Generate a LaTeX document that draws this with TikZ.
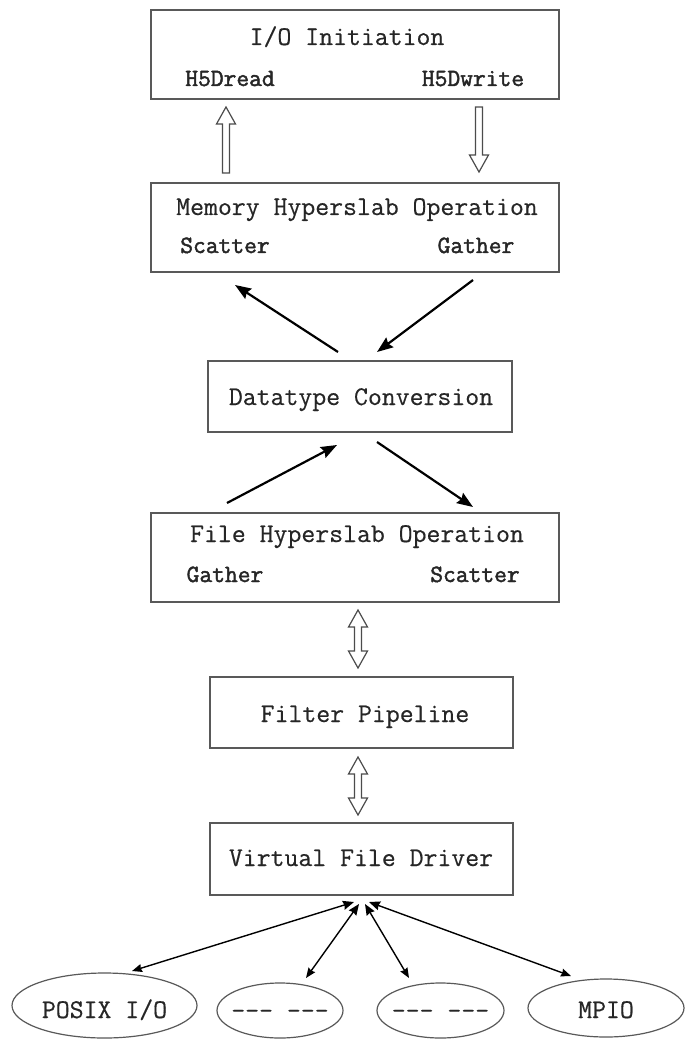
\documentclass[tikz,border=0pt]{standalone}
\usepackage{fontspec}
\newfontfamily\courlike{Latin Modern Mono}[FakeBold=0.4]
\newfontfamily\courheavy{Latin Modern Mono}[FakeBold=1.8]
\usetikzlibrary{arrows.meta,calc,shapes.geometric}
\begin{document}
\begin{tikzpicture}[x=1pt,y=-1pt,
  boxstyle/.style={draw=black!65, line width=1.3pt, inner sep=0pt, outer sep=0pt},
  title/.style={font=\courlike\fontsize{27}{30}\selectfont, text=black!85, inner sep=0pt, anchor=base},
  sub/.style={font=\courheavy\fontsize{24.8}{27}\selectfont, text=black!85, inner sep=0pt, anchor=base},
  oval/.style={ellipse, draw=black!65, line width=1.2pt, inner sep=0pt, outer sep=0pt, text depth=0pt, font=\courlike\fontsize{27}{30}\selectfont, text=black!85},
  thickarr/.style={line width=2.2pt, -{Stealth[length=16pt,width=12pt,inset=2pt]}},
  thinarr/.style={line width=1.4pt, {Stealth[length=11pt,width=9pt,inset=1pt]}-{Stealth[length=10pt,width=8pt,inset=1pt]}},
  hollow/.style={draw=black!70, line width=1.2pt, line join=miter,
    to path={let \p1=(\tikztostart), \p2=(\tikztotarget), \p3=($(\p2)!17pt!(\p1)$) in
      (\x1-3.5pt,\y1) -- (\x1-3.5pt,\y3) -- (\x1-9.5pt,\y3) -- (\x2,\y2) -- (\x1+9.5pt,\y3) -- (\x1+3.5pt,\y3) -- (\x1+3.5pt,\y1) -- cycle}},
  hollowboth/.style={draw=black!70, line width=1.2pt, line join=miter,
    to path={let \p1=(\tikztostart), \p2=(\tikztotarget), \p3=($(\p1)!17pt!(\p2)$), \p4=($(\p2)!17pt!(\p1)$) in
      (\x1,\y1) -- (\x1+9.5pt,\y3) -- (\x1+3.5pt,\y3) -- (\x1+3.5pt,\y4) -- (\x1+9.5pt,\y4) -- (\x2,\y2) -- (\x1-9.5pt,\y4) -- (\x1-3.5pt,\y4) -- (\x1-3.5pt,\y3) -- (\x1-9.5pt,\y3) -- cycle}}
]
\fill[white] (0,0) rectangle (686,1040);
\useasboundingbox (0,0) rectangle (686,1040);

% boxes
\node[boxstyle, minimum width=408pt, minimum height=89pt] (init) at (355,54.5) {};
\node[boxstyle, minimum width=408pt, minimum height=89pt] (mem) at (355,227.5) {};
\node[boxstyle, minimum width=304pt, minimum height=71pt] (conv) at (360,396.5) {};
\node[boxstyle, minimum width=408pt, minimum height=89pt] (file) at (355,557.5) {};
\node[boxstyle, minimum width=303pt, minimum height=71pt] (filter) at (361.5,712.5) {};
\node[boxstyle, minimum width=303pt, minimum height=72pt] (vfd) at (361.5,859) {};

% texts
\node[title] (initT) at (347,45) {I/O Initiation};
\node[sub] (h5read) at (230,86) {H5Dread};
\node[sub] (h5write) at (473,86) {H5Dwrite};
\node[title] (memT) at (357,215) {Memory Hyperslab Operation};
\node[sub] (memS) at (225,253) {Scatter};
\node[sub] (memG) at (476,253) {Gather};
\node[title] (convT) at (361,405) {Datatype Conversion};
\node[title] (fileT) at (357,542) {File Hyperslab Operation};
\node[sub] (fileG) at (225,582) {Gather};
\node[sub] (fileS) at (475,582) {Scatter};
\node[title] (filterT) at (365,722) {Filter Pipeline};
\node[title] (vfdT) at (361,866) {Virtual File Driver};

% ellipses
\node[oval, inner xsep=-20pt, minimum width=185pt, minimum height=65pt, text height=25pt] (posix) at (104.5,1005.5) {POSIX I/O};
\node[oval, inner xsep=-30pt, minimum width=126pt, minimum height=55pt, text height=17pt] (drvA) at (280,1010.5) {-{}-{}- -{}-{}-};
\node[oval, inner xsep=-30pt, minimum width=127pt, minimum height=55pt, text height=17pt] (drvB) at (440.5,1010.5) {-{}-{}- -{}-{}-};
\node[oval, inner xsep=-20pt, minimum width=156pt, minimum height=58pt, text height=20pt] (mpio) at (606,1008) {MPIO};

% hollow arrows
\coordinate (r1) at (226,173); \coordinate (r2) at (226,107);
\coordinate (w1) at (479,107); \coordinate (w2) at (479,172);
\coordinate (d1a) at (358,610); \coordinate (d1b) at (358,668);
\coordinate (d2a) at (358,757); \coordinate (d2b) at (358,815);
\draw[hollow] (r1) to (r2);
\draw[hollow] (w1) to (w2);
\draw[hollowboth] (d1a) to (d1b);
\draw[hollowboth] (d2a) to (d2b);

% diagonal arrows
\coordinate (c1) at (338,352); \coordinate (m1) at (235,285);
\coordinate (m2) at (473,280); \coordinate (c2) at (377,352);
\coordinate (f1) at (227,503); \coordinate (c3) at (337,445);
\coordinate (c4) at (377,442); \coordinate (f2) at (473,507);
\draw[thickarr] (c1) -- (m1);
\draw[thickarr] (m2) -- (c2);
\draw[thickarr] (f1) -- (c3);
\draw[thickarr] (c4) -- (f2);

% driver arrows
\coordinate (v1) at (354,902); \coordinate (v2) at (359,904);
\coordinate (v3) at (365,904); \coordinate (v4) at (369,902);
\coordinate (p1) at (132,971); \coordinate (p2) at (306,978);
\coordinate (p3) at (409,978); \coordinate (p4) at (571,976);
\draw[thinarr] (v1) -- (p1);
\draw[thinarr] (v2) -- (p2);
\draw[thinarr] (v3) -- (p3);
\draw[thinarr] (v4) -- (p4);
\end{tikzpicture}
\end{document}
